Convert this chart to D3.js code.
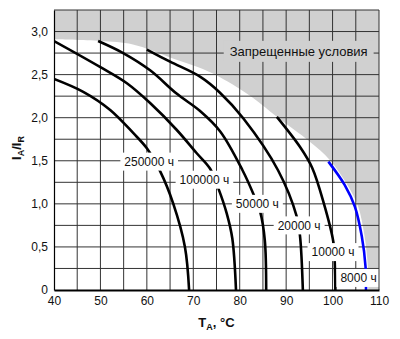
<!DOCTYPE html>
<html><head><meta charset="utf-8">
<script src="https://cdn.jsdelivr.net/npm/d3@7/dist/d3.min.js"></script>
<style>
html,body{margin:0;padding:0;background:#fff;}
svg{display:block;font-family:"Liberation Sans",Arial,sans-serif;}
</style></head><body>
<svg id="chart" width="400" height="339"></svg>
<script>
// ---- data ----
const tempTicks = [40, 50, 60, 70, 80, 90, 100, 110];
const ratioTicks = [0, 0.5, 1.0, 1.5, 2.0, 2.5, 3.0];
const ratioTickLabels = ["0", "0,5", "1,0", "1,5", "2,0", "2,5", "3,0"];
const tempGrid = [45, 50, 55, 60, 65, 70, 75, 80, 85, 90, 95, 100, 105];
const ratioGrid = [0.25, 0.5, 0.75, 1.0, 1.25, 1.5, 1.75, 2.0, 2.25, 2.5, 2.75, 3.0];

// curves: [T_A (°C), I_A/I_R]
const curve250000 = [[40, 2.45], [46.3, 2.30], [52.1, 2.09], [57.1, 1.82], [60.0, 1.645], [62.8, 1.385], [65.7, 1.0], [68.2, 0.5], [69.1, 0]];
const curve100000 = [[40, 2.89], [49.9, 2.59], [55.7, 2.40], [60.7, 2.17], [66.4, 1.86], [70.7, 1.59], [73.6, 1.41], [75.4, 1.18], [77.2, 0.89], [78.4, 0.6], [79.2, 0]];
const curve50000 = [[49.5, 2.89], [54.9, 2.75], [60.7, 2.55], [66.4, 2.28], [71.4, 2.08], [75.8, 1.84], [80.6, 1.39], [82.9, 1.12], [84.4, 0.91], [85.4, 0.58], [85.7, 0]];
const curve20000 = [[60.0, 2.79], [65.0, 2.65], [71.45, 2.476], [75.75, 2.29], [80.8, 1.99], [88.25, 1.39], [92.3, 0.85], [93.0, 0.62], [93.6, 0]];
const curve10000 = [[88.0, 2.01], [93.0, 1.66], [95.6, 1.42], [98.15, 1.0], [100.16, 0.56], [100.5, 0.27], [100.6, 0]];
const curve8000 = [[99.1, 1.49], [102.6, 1.22], [104.8, 0.967], [106.3, 0.62], [107.1, 0.27], [107.2, 0]];

const lifeCurves = [curve250000, curve100000, curve50000, curve20000, curve10000];
const lifeNames = ["250000 ч", "100000 ч", "50000 ч", "20000 ч", "10000 ч", "8000 ч"];
const labelTemps = [60.5, 72.4, 83.8, 92.8, 100.1, 105.6];
const labelRatios = [1.49, 1.28, 1.0, 0.75, 0.44, 0.14];

const forbiddenBoundary = [[40, 2.91], [50, 2.89], [57, 2.85], [65, 2.70], [70.8, 2.59], [75.75, 2.47], [82.9, 2.23], [88, 2.01], [95.1, 1.72], [99.4, 1.51], [103.2, 1.22], [105.5, 0.97], [106.9, 0.62], [107.6, 0.27], [107.7, 0]];
const forbiddenLabel = "Запрещенные условия";
const forbiddenLabelAt = [92.7, 2.77];

// ---- drawing ----
const svg = d3.select("#chart");
const x = d3.scaleLinear().domain([40, 110]).range([54, 379]);
const y = d3.scaleLinear().domain([0, 3.25]).range([290, 10]);
const gray = "#d0d0d0";

svg.append("defs").append("clipPath").attr("id", "plot")
  .append("rect").attr("x", x(40)).attr("y", y(3.25))
  .attr("width", x(110) - x(40)).attr("height", y(0) - y(3.25));

const line = d3.line().x(d => x(d[0])).y(d => y(d[1])).curve(d3.curveCatmullRom.alpha(0.5));

// forbidden region
const edge = line(forbiddenBoundary);
svg.append("path")
  .attr("clip-path", "url(#plot)")
  .attr("d", edge + `L${x(110)},${y(0)}L${x(110)},${y(3.25)}L${x(40)},${y(3.25)}Z`)
  .attr("fill", gray);

// grid
const grid = svg.append("g").attr("stroke", "#333").attr("stroke-width", 1);
grid.selectAll("line.v").data(tempGrid).join("line")
  .attr("x1", d => x(d)).attr("x2", d => x(d))
  .attr("y1", y(3.25)).attr("y2", y(0));
grid.selectAll("line.h").data(ratioGrid).join("line")
  .attr("x1", x(40)).attr("x2", x(110))
  .attr("y1", d => y(d)).attr("y2", d => y(d));

// curves
svg.append("g").attr("clip-path", "url(#plot)").selectAll("path").data(lifeCurves).join("path")
  .attr("d", line).attr("fill", "none").attr("stroke", "#000").attr("stroke-width", 2.6);
svg.append("path").attr("clip-path", "url(#plot)").attr("d", line(curve8000))
  .attr("fill", "none").attr("stroke", "#0000ff").attr("stroke-width", 2.6);

// life labels with white boxes
const lab = svg.append("g").attr("font-size", 12).attr("fill", "#111");
lifeNames.forEach((name, i) => {
  const g = lab.append("g");
  const t = g.append("text")
    .attr("x", x(labelTemps[i])).attr("y", y(labelRatios[i]))
    .attr("text-anchor", "middle").attr("dy", "0.36em").text(name);
  const bb = t.node().getBBox();
  g.insert("rect", "text")
    .attr("x", bb.x - 4).attr("width", bb.width + 8)
    .attr("y", y(labelRatios[i]) - 9).attr("height", 18)
    .attr("fill", "#fff");
});

// forbidden label
{
  const g = svg.append("g");
  const t = g.append("text")
    .attr("x", x(forbiddenLabelAt[0])).attr("y", y(forbiddenLabelAt[1]))
    .attr("text-anchor", "middle").attr("dy", "0.36em")
    .attr("font-size", 13).attr("fill", "#111").text(forbiddenLabel);
  const bb = t.node().getBBox();
  g.insert("rect", "text")
    .attr("x", bb.x - 6).attr("width", bb.width + 12)
    .attr("y", y(forbiddenLabelAt[1]) - 10.5).attr("height", 21)
    .attr("fill", gray);
}

// frame
svg.append("line").attr("x1", x(40)).attr("x2", x(110)).attr("y1", y(3.25)).attr("y2", y(3.25)).attr("stroke", "#333");
svg.append("line").attr("x1", x(110)).attr("x2", x(110)).attr("y1", y(3.25)).attr("y2", y(0)).attr("stroke", "#333");

// axes
const ay = svg.append("g").attr("transform", `translate(${x(40)},0)`)
  .call(d3.axisLeft(y).tickValues(ratioTicks).tickSize(0).tickPadding(6).tickFormat((d, i) => ratioTickLabels[i]));
ay.select(".domain").attr("stroke", "#000").attr("stroke-width", 1.2);
ay.selectAll("text").attr("font-size", 12).attr("fill", "#111").attr("font-family", null);

const ax = svg.append("g").attr("transform", `translate(0,${y(0)})`)
  .call(d3.axisBottom(x).tickValues(tempTicks).tickSize(0).tickPadding(6).tickFormat(d3.format("d")));
ax.select(".domain").attr("stroke", "#000").attr("stroke-width", 2);
ax.selectAll("text").attr("font-size", 12).attr("fill", "#111").attr("font-family", null);

// axis titles
const xt = svg.append("text").attr("x", (x(40) + x(110)) / 2).attr("y", 327)
  .attr("text-anchor", "middle").attr("font-size", 13).attr("font-weight", "bold").attr("fill", "#111");
xt.append("tspan").text("T");
xt.append("tspan").attr("font-size", 9).attr("dy", 3).text("A");
xt.append("tspan").attr("dy", -3).text(", °C");

const yt = svg.append("text").attr("transform", `translate(21,148) rotate(-90)`)
  .attr("text-anchor", "middle").attr("font-size", 13).attr("font-weight", "bold").attr("fill", "#111");
yt.append("tspan").text("I");
yt.append("tspan").attr("font-size", 9).attr("dy", 3).text("A");
yt.append("tspan").attr("dy", -3).text("/I");
yt.append("tspan").attr("font-size", 9).attr("dy", 3).text("R");
</script>
</body></html>
